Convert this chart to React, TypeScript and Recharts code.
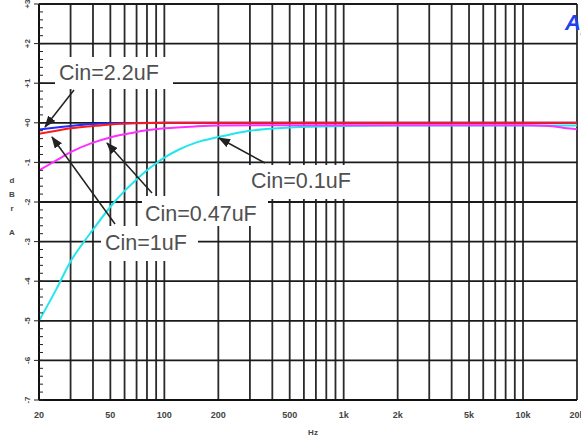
import { LineChart, Line, XAxis, YAxis, ReferenceLine } from "recharts";

// frequency axis (Hz)
const FREQ_TICKS = [20, 50, 100, 200, 500, 1000, 2000, 5000, 10000, 20000];
const FREQ_LABELS = ["20", "50", "100", "200", "500", "1k", "2k", "5k", "10k", "20k"];
const GRID_FREQS = [
  20, 30, 40, 50, 60, 70, 80, 90,
  100, 200, 300, 400, 500, 600, 700, 800, 900,
  1000, 2000, 3000, 4000, 5000, 6000, 7000, 8000, 9000,
  10000, 20000,
];

// level axis (dBr A)
const DB_GRID = [3, 2, 1, 0, -1, -2, -3, -4, -5, -6, -7];
const DB_LABELS = ["+3", "+2", "+1", "+0", "-1", "-2", "-3", "-4", "-5", "-6", "-7"];
const DB_MINOR = Array.from({ length: 51 }, (_, i) => Math.round((-7 + i * 0.2) * 10) / 10);

// curves: [Hz, dB]
const cin01 = [
  [20, -5.0], [25, -4.2], [30, -3.5], [35, -3.05], [40, -2.7], [50, -2.12], [60, -1.72],
  [70, -1.43], [80, -1.2], [90, -1.02], [100, -0.88], [120, -0.68], [150, -0.5],
  [200, -0.36], [300, -0.2], [500, -0.12], [1000, -0.08], [2000, -0.07], [5000, -0.07],
  [10000, -0.07], [15000, -0.07], [20000, -0.07],
];
const cin047 = [
  [20, -1.2], [25, -0.95], [30, -0.74], [40, -0.5], [50, -0.37], [60, -0.29], [70, -0.23],
  [80, -0.19], [100, -0.14], [150, -0.09], [200, -0.07], [500, -0.06], [1000, -0.06],
  [5000, -0.06], [10000, -0.06], [14000, -0.08], [17000, -0.13], [20000, -0.16],
];
const cin1 = [
  [20, -0.28], [25, -0.2], [30, -0.14], [40, -0.08], [50, -0.04], [70, -0.01], [100, 0],
  [1000, 0], [10000, 0], [20000, 0],
];
const cin22 = [
  [20, -0.17], [25, -0.12], [30, -0.08], [40, -0.03], [50, -0.01], [100, 0], [1000, 0],
  [20000, 0],
];

const toRows = (pts: number[][]) => pts.map(([f, db]) => ({ f, db }));

const PL = 39;
const PB = 400;

function YTick(props: any) {
  const { y, payload } = props;
  const v = payload.value;
  const idx = DB_GRID.indexOf(v);
  return (
    <g>
      <line x1={PL} x2={PL + 4} y1={y} y2={y} stroke="#222" strokeWidth={1} />
      {idx >= 0 && (
        <>
          <line x1={PL - 5} x2={PL} y1={y} y2={y} stroke="#222" strokeWidth={1} />
          <text
            x={30}
            y={y}
            transform={`rotate(-90 30 ${y})`}
            textAnchor="middle"
            fontSize={8}
            fontWeight="bold"
            fill="#444"
            fontFamily="Liberation Sans, Arial, sans-serif"
          >
            {DB_LABELS[idx]}
          </text>
        </>
      )}
    </g>
  );
}

function XTick(props: any) {
  const { x, payload } = props;
  const idx = FREQ_TICKS.indexOf(payload.value);
  return (
    <text
      x={x}
      y={PB + 18}
      textAnchor="middle"
      fontSize={9}
      fontWeight="bold"
      fill="#444"
      fontFamily="Liberation Sans, Arial, sans-serif"
    >
      {FREQ_LABELS[idx]}
    </text>
  );
}

const LABEL_FONT = "Liberation Sans, Arial, sans-serif";

export default function App() {
  return (
    <div style={{ position: "absolute", left: 0, top: 0, width: 581, height: 440, background: "#fff" }}>
      <LineChart width={581} height={440} margin={{ top: 4, right: 4, left: 0, bottom: 0 }}>
        <XAxis
          type="number"
          dataKey="f"
          scale="log"
          domain={[20, 20000]}
          ticks={FREQ_TICKS}
          interval={0}
          tick={<XTick />}
          tickLine={false}
          axisLine={{ stroke: "#111", strokeWidth: 2 }}
          height={40}
          allowDataOverflow
        />
        <YAxis
          type="number"
          domain={[-7, 3]}
          ticks={DB_MINOR}
          interval={0}
          width={39}
          tick={<YTick />}
          tickLine={false}
          axisLine={{ stroke: "#111", strokeWidth: 2 }}
          allowDataOverflow
        />
        {GRID_FREQS.map((f) => (
          <ReferenceLine key={"x" + f} x={f} stroke="#2a2a2a" strokeWidth={1.8} />
        ))}
        {DB_GRID.map((v) => (
          <ReferenceLine key={"y" + v} y={v} stroke="#1a1a1a" strokeWidth={1.8} />
        ))}
        <Line data={toRows(cin22)} dataKey="db" type="monotone" stroke="#1f2cff" strokeWidth={2} dot={false} isAnimationActive={false} />
        <Line data={toRows(cin01)} dataKey="db" type="monotone" stroke="#22e6ee" strokeWidth={2} dot={false} isAnimationActive={false} />
        <Line data={toRows(cin047)} dataKey="db" type="monotone" stroke="#ff30ff" strokeWidth={2} dot={false} isAnimationActive={false} />
        <Line data={toRows(cin1)} dataKey="db" type="monotone" stroke="#ff1a1a" strokeWidth={2} dot={false} isAnimationActive={false} />
      </LineChart>
      <svg
        width={581}
        height={440}
        style={{ position: "absolute", left: 0, top: 0, pointerEvents: "none" }}
      >
        <defs>
          <marker id="ah" markerWidth="12" markerHeight="9" refX="11" refY="4.5" orient="auto" markerUnits="userSpaceOnUse">
            <path d="M0,0 L12,4.5 L0,9 z" fill="#222" />
          </marker>
        </defs>
        {/* label boxes */}
        <rect x={55} y={57} width={118} height={32} fill="#fff" />
        <rect x={245} y={165} width={118} height={34} fill="#fff" />
        <rect x={142} y={196} width={126} height={30} fill="#fff" />
        <rect x={101} y={226} width={97} height={35} fill="#fff" />
        <g fill="#505050" fontFamily={LABEL_FONT} fontSize={21.5}>
          <text x={59} y={80}>Cin=2.2uF</text>
          <text x={251} y={188}>Cin=0.1uF</text>
          <text x={145} y={221}>Cin=0.47uF</text>
          <text x={105} y={250}>Cin=1uF</text>
        </g>
        <g stroke="#222" strokeWidth={1.5}>
          <line x1={74} y1={90} x2={45} y2={127} markerEnd="url(#ah)" />
          <line x1={115} y1={224} x2={52} y2={137} markerEnd="url(#ah)" />
          <line x1={152} y1={193} x2={107} y2={143} markerEnd="url(#ah)" />
          <line x1={265} y1={163} x2={219} y2={138} markerEnd="url(#ah)" />
        </g>
        {/* axis titles */}
        <g fontFamily={LABEL_FONT} fontSize={8} fontWeight="bold" fill="#444" textAnchor="middle">
          <text x={12} y={183}>d</text>
          <text x={12} y={197}>B</text>
          <text x={12} y={211}>r</text>
          <text x={12} y={235}>A</text>
          <text x={313} y={435}>Hz</text>
        </g>
        <text x={565} y={30} fill="#2040f0" fontFamily={LABEL_FONT} fontSize={22} fontWeight="bold" fontStyle="italic">
          Ap
        </text>
      </svg>
    </div>
  );
}
